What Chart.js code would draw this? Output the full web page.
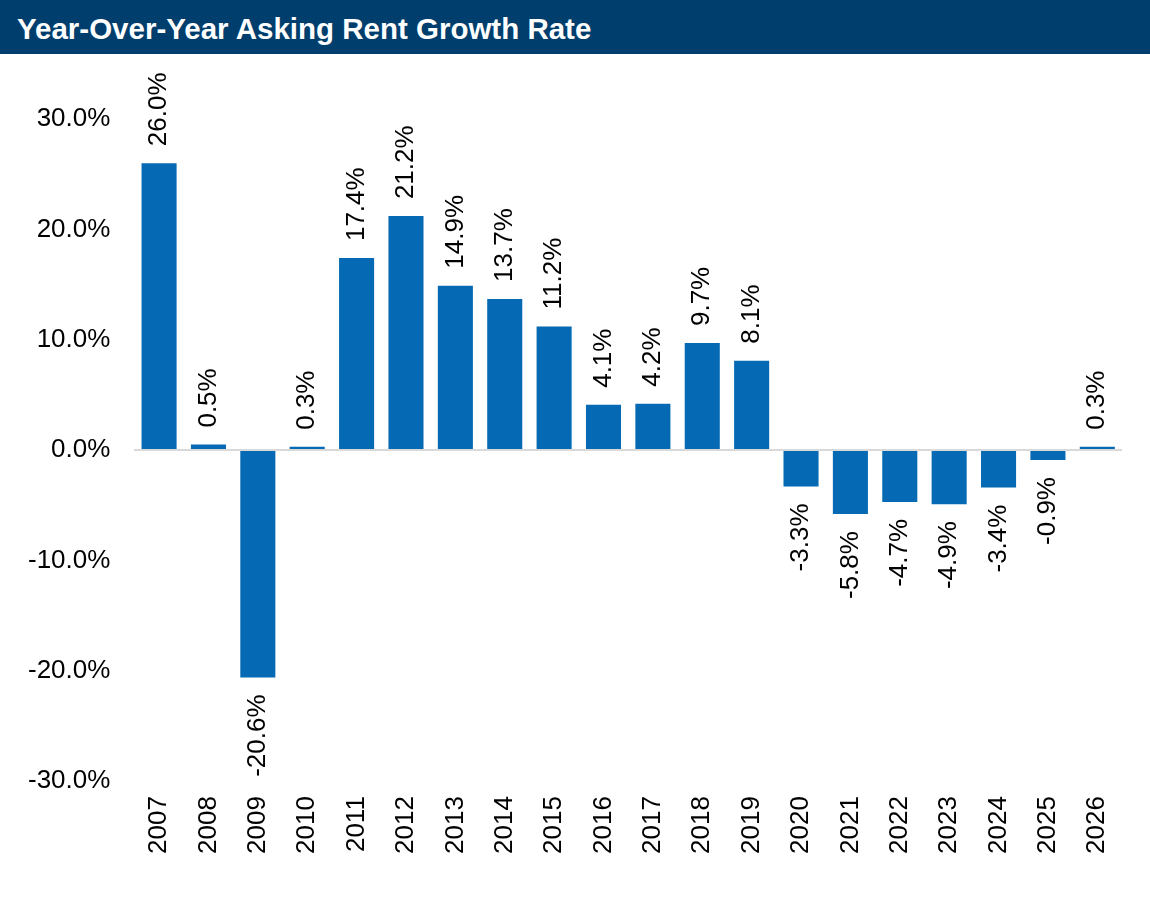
<!DOCTYPE html>
<html>
<head>
<meta charset="utf-8">
<script src="https://cdn.jsdelivr.net/npm/chart.js@4/dist/chart.umd.min.js"></script>
<style>
  html, body { margin: 0; padding: 0; background: #fff; }
  #title {
    position: absolute; left: 0; top: 0; width: 1150px; height: 54px;
    background: #003e6d; color: #fff;
    font: bold 29.5px "Liberation Sans", Arial, sans-serif;
    line-height: 58px; padding-left: 17px; box-sizing: border-box;
  }
  #wrap { position: absolute; left: 0; top: 54px; width: 1150px; height: 855px; }
</style>
</head>
<body>
<div id="title">Year-Over-Year Asking Rent Growth Rate</div>
<div id="wrap"><canvas id="chart" width="1150" height="855"></canvas></div>
<script>
const years = ['2007', '2008', '2009', '2010', '2011', '2012', '2013', '2014', '2015', '2016',
               '2017', '2018', '2019', '2020', '2021', '2022', '2023', '2024', '2025', '2026'];
const growth = [26.0, 0.5, -20.6, 0.3, 17.4, 21.2, 14.9, 13.7, 11.2, 4.1,
                4.2, 9.7, 8.1, -3.3, -5.8, -4.7, -4.9, -3.4, -0.9, 0.3];

const FONT = '"Liberation Sans", Arial, sans-serif';

// rotated value labels above / below each bar
const barLabels = {
    id: 'barLabels',
    afterDatasetsDraw(chart) {
        const ctx = chart.ctx;
        const meta = chart.getDatasetMeta(0);
        ctx.save();
        ctx.font = '26px ' + FONT;
        ctx.fillStyle = '#000';
        ctx.textBaseline = 'middle';
        meta.data.forEach((bar, i) => {
            const v = growth[i];
            const txt = v.toFixed(1) + '%';
            ctx.save();
            if (v >= 0) {
                ctx.translate(bar.x, bar.y - 17);
                ctx.rotate(-Math.PI / 2);
                ctx.textAlign = 'left';
            } else {
                ctx.translate(bar.x, bar.y + 17);
                ctx.rotate(-Math.PI / 2);
                ctx.textAlign = 'right';
            }
            ctx.fillText(txt, 0, 0);
            ctx.restore();
        });
        ctx.restore();
    }
};

new Chart(document.getElementById('chart'), {
    type: 'bar',
    data: {
        labels: years,
        datasets: [{
            data: growth,
            backgroundColor: '#0569b3',
            barPercentage: 0.71,
            categoryPercentage: 1.0
        }]
    },
    options: {
        responsive: false,
        animation: false,
        layout: { padding: { top: 65, left: 4, right: 28, bottom: 40 } },
        plugins: {
            legend: { display: false },
            tooltip: { enabled: false }
        },
        scales: {
            x: {
                grid: { display: false, drawTicks: false },
                border: { display: false },
                ticks: {
                    color: '#000',
                    font: { family: FONT, size: 26 },
                    minRotation: 90,
                    maxRotation: 90,
                    padding: 15,
                    autoSkip: false
                }
            },
            y: {
                min: -30,
                max: 30,
                border: { display: false },
                grid: {
                    drawTicks: false,
                    lineWidth: 2,
                    color: c => c.tick && c.tick.value === 0 ? '#d9d9d9' : 'rgba(0,0,0,0)'
                },
                ticks: {
                    stepSize: 10,
                    color: '#000',
                    padding: 24,
                    font: { family: FONT, size: 26 },
                    callback: v => v.toFixed(1) + '%'
                }
            }
        }
    },
    plugins: [barLabels]
});
</script>
</body>
</html>
